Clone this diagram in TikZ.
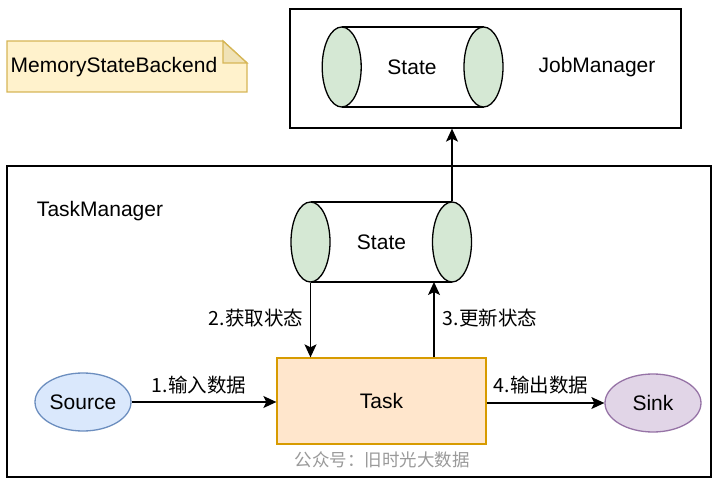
\documentclass[tikz,border=0pt]{standalone}
\usepackage{fontspec}
\setmainfont{Liberation Sans}
\newfontfamily\cjk{Noto Sans CJK SC}
\usetikzlibrary{shapes.geometric,arrows.meta}
\definecolor{cylfill}{HTML}{D5E8D4}
\definecolor{notefill}{HTML}{FFF2CC}
\definecolor{notefold}{HTML}{F0E2B6}
\definecolor{noteline}{HTML}{D6B656}
\definecolor{srcfill}{HTML}{DAE8FC}
\definecolor{srcline}{HTML}{6C8EBF}
\definecolor{sinkfill}{HTML}{E1D5E7}
\definecolor{sinkline}{HTML}{9673A6}
\definecolor{taskfill}{HTML}{FFE6CC}
\definecolor{taskline}{HTML}{D79B00}
\definecolor{wmgray}{HTML}{9A9A9A}
\begin{document}
\begin{tikzpicture}[x=1pt,y=-1pt,line width=1.3pt,
  txt/.style={font=\fontsize{21}{24}\selectfont},
  cjktxt/.style={font=\cjk\fontsize{19.5}{22}\selectfont},
  capend/.style={ellipse,draw=black,fill=cylfill,minimum width=39pt,minimum height=80pt,inner sep=0pt},
  conn/.style={draw=black,-{Stealth[length=13pt,width=12pt,inset=3pt]}},
  frame/.style={draw=black,fill=white}]
\useasboundingbox (0,0) rectangle (716,487);

% outer boxes
\node[frame,minimum width=391pt,minimum height=119pt,inner sep=0pt] (jm) at (485.5,68.5) {};
\node[frame,minimum width=704pt,minimum height=311pt,inner sep=0pt] (tm) at (359,321.5) {};
\node[txt,anchor=west] (tmlabel) at (33,211) {TaskManager};
\node[txt] (jmlabel) at (597,67) {JobManager};

% note
\draw[draw=noteline,fill=notefill] (7,41) -- (223,41) -- (247,63) -- (247,92) -- (7,92) -- cycle;
\draw[draw=noteline,fill=notefold] (223,41) -- (223,63) -- (247,63) -- cycle;
\node[txt] (note) at (114,67) {MemoryStateBackend};

% top cylinder
\fill[white] (341.7,27) rectangle (483.5,107);
\draw (341.7,27) -- (483.5,27) (341.7,107) -- (483.5,107);
\node[capend] (tL) at (341.7,67) {};
\node[capend] (tR) at (483.5,67) {};
\node[txt] (tstate) at (412,67) {State};

% lower cylinder
\fill[white] (310.5,202) rectangle (452,282);
\draw (310.5,202) -- (452,202) (310.5,282) -- (452,282);
\node[capend] (lL) at (310.5,242) {};
\node[capend] (lR) at (452,242) {};
\node[txt] (lstate) at (381.5,242) {State};
\coordinate (updend) at (434,282);

% task, source, sink
\node[draw=taskline,fill=taskfill,minimum width=209pt,minimum height=86pt,inner sep=0pt,txt] (task) at (381.5,401) {Task};
\node[ellipse,draw=srcline,fill=srcfill,minimum width=96pt,minimum height=58pt,inner sep=0pt,txt] (src) at (83,402) {Source};
\node[ellipse,draw=sinkline,fill=sinkfill,minimum width=96pt,minimum height=58pt,inner sep=0pt,txt] (sink) at (653,403) {Sink};

% connectors
\draw[conn] (src.east) -- (src.east -| task.west);
\draw[conn] (task.east |- sink.west) -- (sink.west);
\draw[conn] (lL.south) -- (lL.south |- task.north);
\draw[conn] (updend |- task.north) -- (updend);
\draw[conn] (lR.north) -- (lR.north |- jm.south);

% labels
\node[cjktxt] (l1) at (199,385) {1.输入数据};
\node[cjktxt] (l2) at (256,318) {2.获取状态};
\node[cjktxt] (l3) at (490,318) {3.更新状态};
\node[cjktxt] (l4) at (541,385) {4.输出数据};
\node[font=\cjk\fontsize{17.5}{20}\selectfont,text=wmgray] (wm) at (382,460) {公众号：旧时光大数据};
\end{tikzpicture}
\end{document}
